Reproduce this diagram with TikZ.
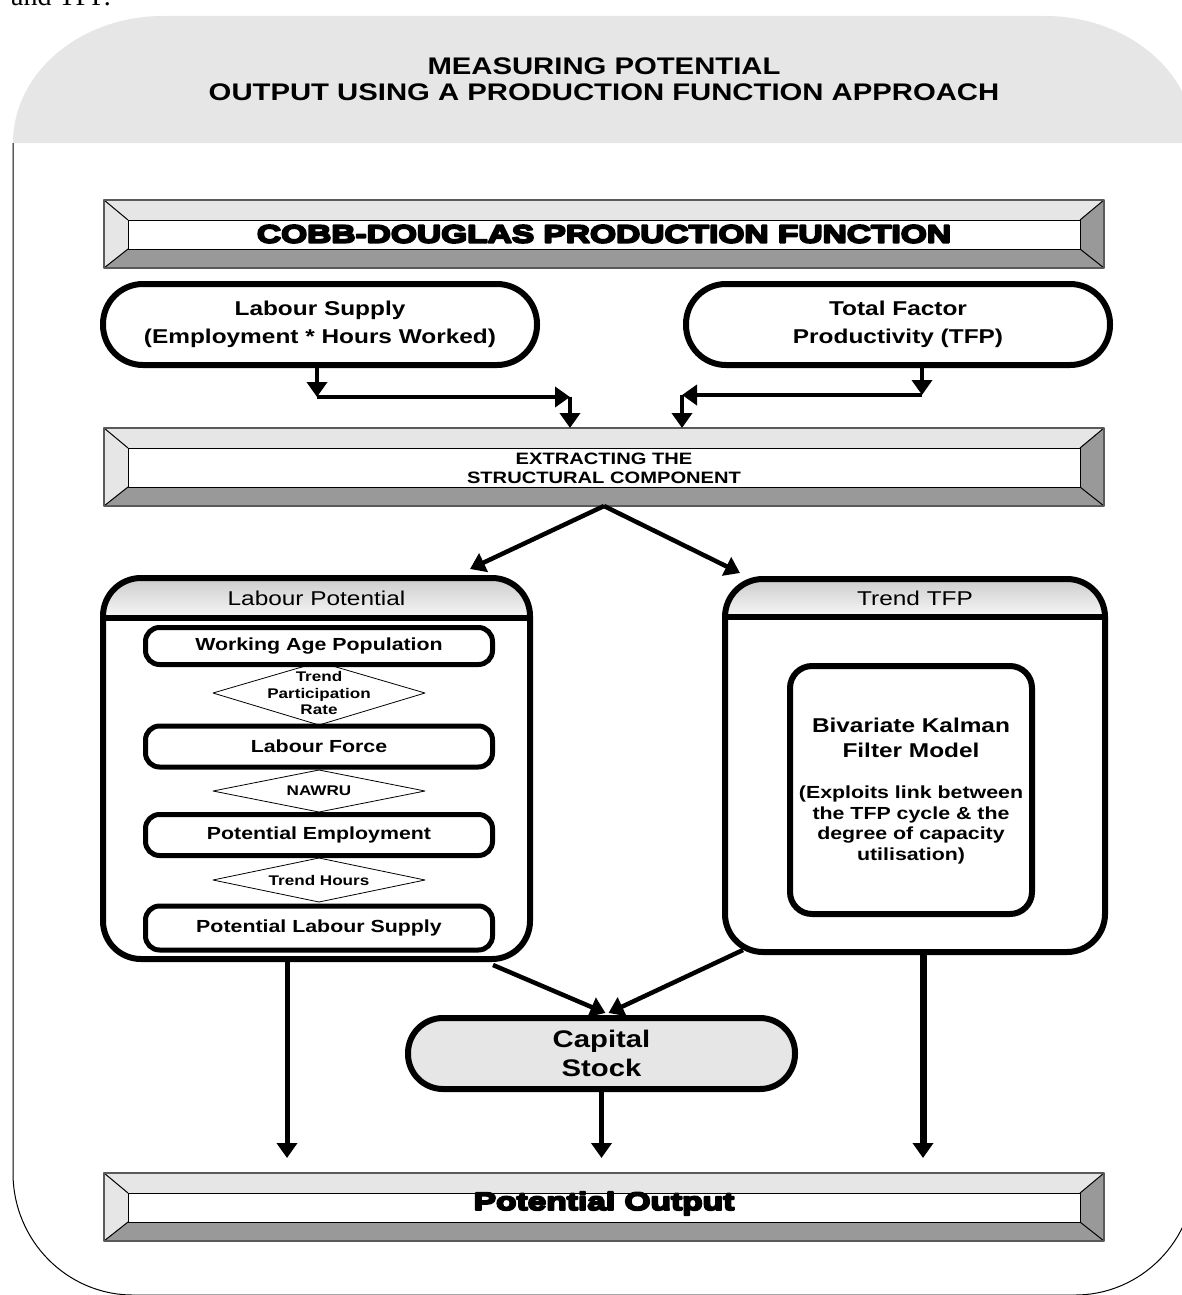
\documentclass[tikz,border=0pt]{standalone}
\usepackage{fontspec}
\setmainfont{Liberation Sans}[FakeStretch=1.22]
\newfontfamily\heavyfont{Liberation Sans Bold}[FakeStretch=1.34,FakeBold=8]
\newfontfamily\seriffont{Liberation Serif}
\usetikzlibrary{calc,arrows.meta}
\definecolor{lightg}{RGB}{230,230,230}
\definecolor{darkg}{RGB}{153,153,153}
\definecolor{edgeg}{RGB}{90,90,90}
\newcommand{\bevelframe}[1]{%
 \fill[lightg] (#1.north west) -- (#1.north east) -- ($(#1.north east)+(-24,20)$) -- ($(#1.north west)+(24,20)$) -- cycle;
 \fill[lightg] (#1.north west) -- ($(#1.north west)+(24,20)$) -- ($(#1.south west)+(24,-19)$) -- (#1.south west) -- cycle;
 \fill[darkg] (#1.south west) -- ($(#1.south west)+(24,-19)$) -- ($(#1.south east)+(-24,-19)$) -- (#1.south east) -- cycle;
 \fill[darkg] (#1.north east) -- (#1.south east) -- ($(#1.south east)+(-24,-19)$) -- ($(#1.north east)+(-24,20)$) -- cycle;
 \draw[fill=white, line width=1pt] ($(#1.north west)+(24,20)$) rectangle ($(#1.south east)+(-24,-19)$);
 \draw[line width=1pt] (#1.north west) -- ($(#1.north west)+(24,20)$) (#1.south west) -- ($(#1.south west)+(24,-19)$) (#1.north east) -- ($(#1.north east)+(-24,20)$) (#1.south east) -- ($(#1.south east)+(-24,-19)$);
 \draw[edgeg, line width=1.2pt] (#1.north west) rectangle (#1.south east);
}
\tikzset{
 bevelnode/.style={rectangle, inner sep=0pt, outer sep=0pt, minimum width=1000pt, minimum height=#1},
 stadium/.style={draw, line width=6pt, rounded corners=40pt, fill=white, inner sep=0pt, align=center, font=\bfseries\fontsize{20}{28}\selectfont},
 innerbox/.style={draw, line width=5pt, rounded corners=14pt, fill=white, minimum width=347pt, inner sep=0pt, font=\bfseries\fontsize{17.5}{20}\selectfont},
 dtext/.style={font=\bfseries\fontsize{14}{16.5}\selectfont, align=center, inner sep=0pt},
 arr/.style={line width=4.5pt, -{Triangle[length=15pt,width=20pt]}},
 hdr/.style={font=\fontsize{20}{24}\selectfont, inner sep=0pt},
}
\begin{document}
\begin{tikzpicture}[x=1pt, y=-1pt, line join=round]
\useasboundingbox (0,0) rectangle (1182,1295);
% previous text cut at top
\node[font=\seriffont\fontsize{28}{30}\selectfont, anchor=base west, inner sep=0pt] (prev) at (11,6) {and TFP.};
% outer frame
\fill[lightg] (13,143) arc[start angle=180, end angle=270, x radius=150, y radius=127] -- (1045,16) arc[start angle=270, end angle=360, x radius=150, y radius=127] -- cycle;
\draw[line width=1pt] (13,143) -- (13,1173) arc[start angle=180, end angle=90, x radius=120, y radius=122] -- (1075,1295) arc[start angle=90, end angle=0, x radius=120, y radius=122] -- (1195,143);
\node[font=\bfseries\fontsize{24}{26}\selectfont, align=center] (title) at (604,79) {MEASURING POTENTIAL\\OUTPUT USING A PRODUCTION FUNCTION APPROACH};
% Cobb-Douglas
\node[bevelnode=68pt] (cobb) at (604,234) {};
\bevelframe{cobb}
\node[font=\heavyfont\fontsize{25}{28}\selectfont, inner sep=0pt] (cobbtxt) at (cobb.center) {COBB-DOUGLAS PRODUCTION FUNCTION};
% top inputs
\node[stadium, minimum width=434pt, minimum height=81pt] (ls) at (320,324.5) {Labour Supply\\(Employment * Hours Worked)};
\node[stadium, minimum width=424pt, minimum height=81pt] (tfp) at (898,324.5) {Total Factor\\Productivity (TFP)};
% extracting
\node[bevelnode=78pt] (ext) at (604,467) {};
\bevelframe{ext}
\node[font=\bfseries\fontsize{16.5}{19}\selectfont, align=center, inner sep=0pt] (exttxt) at (604,468) {EXTRACTING THE\\STRUCTURAL COMPONENT};
% arrows into extracting
\coordinate (lsj) at (317,397);
\coordinate (lsk) at (570,397);
\coordinate (tj) at (922,395);
\coordinate (tk) at (682,395);
\draw[arr] (ls.south -| lsj) -- (lsj);
\draw[arr] (lsj) -- (lsk);
\draw[arr] (lsk) -- (lsk |- ext.north);
\draw[arr] (tfp.south -| tj) -- (tj);
\draw[arr] (tj) -- (tk);
\draw[arr] (tk) -- (tk |- ext.north);
% Labour potential container
\node[minimum width=427pt, minimum height=381pt, inner sep=0pt, outer sep=0pt] (lp) at (316.5,768.5) {};
\begin{scope}
\clip[rounded corners=38pt] (lp.north west) rectangle (lp.south east);
\fill[white] (lp.north west) rectangle (lp.south east);
\shade[top color=black!20, bottom color=black!3] (lp.north west) rectangle ($(lp.north east)+(0,40)$);
\end{scope}
\draw[line width=6pt, rounded corners=38pt] (lp.north west) rectangle (lp.south east);
\draw[line width=6pt] ($(lp.north west)+(0,40)$) -- ($(lp.north east)+(0,40)$);
\node[hdr] (lptitle) at ($(lp.north)+(0,20)$) {Labour Potential};
% Trend TFP container
\node[minimum width=380pt, minimum height=373pt, inner sep=0pt, outer sep=0pt] (tt) at (915,765.5) {};
\begin{scope}
\clip[rounded corners=38pt] (tt.north west) rectangle (tt.south east);
\fill[white] (tt.north west) rectangle (tt.south east);
\shade[top color=black!20, bottom color=black!3] (tt.north west) rectangle ($(tt.north east)+(0,38)$);
\end{scope}
\draw[line width=6pt, rounded corners=38pt] (tt.north west) rectangle (tt.south east);
\draw[line width=6pt] ($(tt.north west)+(0,38)$) -- ($(tt.north east)+(0,38)$);
\node[hdr] (tttitle) at ($(tt.north)+(0,19)$) {Trend TFP};
% diverging arrows
\coordinate (lpin) at (470,569);
\coordinate (ttin) at (740,573);
\draw[arr] (ext.south) -- (lpin);
\draw[arr] (ext.south) -- (ttin);
% diamonds
\node[dtext] (d1) at (319,693) {Trend\\Participation\\Rate};
\node[dtext] (d2) at (319,791) {NAWRU};
\node[dtext] (d3) at (319,880) {Trend Hours};
\draw[line width=0.8pt] ($(d1)+(-106,0)$) -- ($(d1)+(0,-31)$) -- ($(d1)+(106,0)$) -- ($(d1)+(0,32)$) -- cycle;
\draw[line width=0.8pt] ($(d2)+(-106,0)$) -- ($(d2)+(0,-21)$) -- ($(d2)+(106,0)$) -- ($(d2)+(0,21)$) -- cycle;
\draw[line width=0.8pt] ($(d3)+(-106,0)$) -- ($(d3)+(0,-22)$) -- ($(d3)+(106,0)$) -- ($(d3)+(0,22)$) -- cycle;
% inner boxes
\node[innerbox, minimum height=37pt] (wap) at (319,646) {Working Age Population};
\node[innerbox, minimum height=41pt] (lf) at (319,746.5) {Labour Force};
\node[innerbox, minimum height=41pt] (pe) at (319,835) {Potential Employment};
\node[innerbox, minimum height=44pt] (pls) at (319,928) {Potential Labour Supply};
% Kalman box
\node[draw, line width=6pt, rounded corners=22pt, fill=white, minimum width=242pt, minimum height=248pt, inner sep=0pt] (kal) at (911,790) {};
\node[font=\bfseries\fontsize{20}{25}\selectfont, align=center, inner sep=0pt] (kal1) at (911,738) {Bivariate Kalman\\Filter Model};
\node[font=\bfseries\fontsize{17.5}{20.5}\selectfont, align=center, inner sep=0pt] (kal2) at (911,825) {(Exploits link between\\the TFP cycle \& the\\degree of capacity\\utilisation)};
% Capital stock
\node[draw, line width=6pt, rounded corners=35pt, fill=lightg, minimum width=387pt, minimum height=71pt, inner sep=0pt, align=center, font=\bfseries\fontsize{24}{29}\selectfont] (cap) at (601.5,1053.5) {Capital\\Stock};
% Potential output
\node[bevelnode=68pt] (po) at (604,1207) {};
\bevelframe{po}
\node[font=\heavyfont\fontsize{25}{28}\selectfont, inner sep=0pt] (potxt) at (604,1203.5) {Potential Output};
% arrows to capital
\coordinate (lpout) at (493,965);
\coordinate (ttout) at (743,950);
\draw[arr] (lpout) -- ($(cap.north)+(4,-2)$);
\draw[arr] (ttout) -- ($(cap.north)+(7,-2)$);
% arrows to potential output
\coordinate (lpx) at (287,0);
\coordinate (ttx) at (923,0);
\draw[arr, line width=5pt] (lp.south -| lpx) -- ($(po.north -| lpx)+(0,-15)$);
\draw[arr] (cap.south) -- ($(po.north -| cap.south)+(0,-15)$);
\draw[arr, line width=7pt] (tt.south -| ttx) -- ($(po.north -| ttx)+(0,-15)$);
\end{tikzpicture}
\end{document}
